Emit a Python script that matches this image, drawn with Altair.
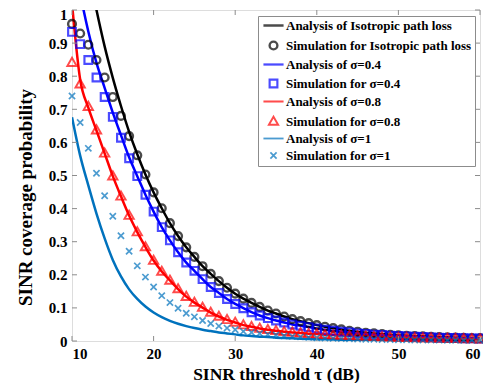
import altair as alt
import pandas as pd

x_db = list(range(10, 61))

iso_ana = [1.41, 1.26, 1.12, 1.00, 0.89, 0.795, 0.71, 0.632, 0.564, 0.503,
           0.449, 0.401, 0.356, 0.317, 0.283, 0.254, 0.226, 0.203, 0.181, 0.161,
           0.143, 0.128, 0.115, 0.103, 0.092, 0.083, 0.074, 0.066, 0.060, 0.054,
           0.048, 0.043, 0.039, 0.035, 0.031, 0.028, 0.025, 0.023, 0.021, 0.019,
           0.017, 0.016, 0.015, 0.014, 0.013, 0.012, 0.011, 0.010, 0.0095, 0.009, 0.0085]
iso_sim = [0.958, 0.929, 0.895, 0.849, 0.796, 0.737, 0.680, 0.619, 0.561, 0.503,
           0.449, 0.401, 0.356, 0.317, 0.283, 0.254, 0.226, 0.203, 0.181, 0.161,
           0.143, 0.128, 0.115, 0.103, 0.092, 0.083, 0.074, 0.066, 0.060, 0.054,
           0.048, 0.043, 0.039, 0.035, 0.031, 0.028, 0.025, 0.023, 0.021, 0.019,
           0.017, 0.016, 0.015, 0.014, 0.013, 0.012, 0.011, 0.010, 0.0095, 0.009, 0.0085]
s04_ana = [1.18, 1.05, 0.935, 0.84, 0.765, 0.69, 0.622, 0.555, 0.498, 0.442,
           0.391, 0.344, 0.304, 0.268, 0.237, 0.212, 0.187, 0.163, 0.145, 0.127,
           0.112, 0.099, 0.087, 0.077, 0.069, 0.062, 0.056, 0.050, 0.046, 0.042,
           0.038, 0.034, 0.031, 0.028, 0.026, 0.023, 0.021, 0.019, 0.018, 0.016,
           0.015, 0.014, 0.013, 0.012, 0.011, 0.010, 0.0095, 0.009, 0.0085, 0.008, 0.0075]
s04_sim = [0.934, 0.897, 0.849, 0.796, 0.737, 0.677, 0.614, 0.552, 0.498, 0.442,
           0.391, 0.344, 0.304, 0.268, 0.237, 0.212, 0.187, 0.163, 0.145, 0.127,
           0.112, 0.099, 0.087, 0.077, 0.069, 0.062, 0.056, 0.050, 0.046, 0.042,
           0.038, 0.034, 0.031, 0.028, 0.026, 0.023, 0.021, 0.019, 0.018, 0.016,
           0.015, 0.014, 0.013, 0.012, 0.011, 0.010, 0.0095, 0.009, 0.0085, 0.008, 0.0075]
s08_ana = [1.02, 0.79, 0.705, 0.636, 0.567, 0.498, 0.437, 0.379, 0.329, 0.284,
           0.243, 0.210, 0.183, 0.157, 0.134, 0.116, 0.101, 0.086, 0.074, 0.064,
           0.056, 0.048, 0.043, 0.038, 0.034, 0.031, 0.028, 0.026, 0.024, 0.022,
           0.021, 0.019, 0.018, 0.017, 0.016, 0.015, 0.014, 0.013, 0.012, 0.011,
           0.010, 0.0095, 0.009, 0.0085, 0.008, 0.0075, 0.007, 0.0065, 0.006, 0.0058, 0.0055]
s08_sim = [0.841, 0.776, 0.708, 0.637, 0.567, 0.498, 0.437, 0.379, 0.329, 0.284,
           0.243, 0.210, 0.183, 0.157, 0.134, 0.116, 0.101, 0.086, 0.074, 0.064,
           0.056, 0.048, 0.043, 0.038, 0.034, 0.031, 0.028, 0.026, 0.024, 0.022,
           0.021, 0.019, 0.018, 0.017, 0.016, 0.015, 0.014, 0.013, 0.012, 0.011,
           0.010, 0.0095, 0.009, 0.0085, 0.008, 0.0075, 0.007, 0.0065, 0.006, 0.0058, 0.0055]
s1_ana = [0.676, 0.56, 0.47, 0.385, 0.31, 0.245, 0.195, 0.156, 0.127, 0.104,
          0.086, 0.072, 0.061, 0.052, 0.045, 0.039, 0.034, 0.030, 0.026, 0.023,
          0.020, 0.017, 0.015, 0.013, 0.012, 0.010, 0.009, 0.008, 0.007, 0.0062,
          0.0055, 0.005, 0.0045, 0.004, 0.0036, 0.0032, 0.003, 0.0027, 0.0025, 0.0023,
          0.0021, 0.0019, 0.0017, 0.0016, 0.0015, 0.0014, 0.0013, 0.0012, 0.0011, 0.00105, 0.001]
s1_sim = [0.74, 0.66, 0.582, 0.507, 0.439, 0.377, 0.318, 0.271, 0.227, 0.193,
          0.163, 0.137, 0.116, 0.099, 0.084, 0.073, 0.062, 0.053, 0.045, 0.039,
          0.034, 0.029, 0.026, 0.023, 0.020, 0.018, 0.016, 0.014, 0.0125, 0.011,
          0.010, 0.009, 0.008, 0.0072, 0.0065, 0.006, 0.0054, 0.005, 0.0045, 0.0042,
          0.0038, 0.0035, 0.0032, 0.003, 0.0028, 0.0026, 0.0024, 0.0022, 0.002, 0.0019, 0.0018]

names = ["Analysis of Isotropic path loss", "Simulation for Isotropic path loss",
         "Analysis of σ=0.4", "Simulation for σ=0.4",
         "Analysis of σ=0.8", "Simulation for σ=0.8",
         "Analysis of σ=1", "Simulation for σ=1"]
series_vals = [iso_ana, iso_sim, s04_ana, s04_sim, s08_ana, s08_sim, s1_ana, s1_sim]
colors = ["#000000", "#000000", "#0000FF", "#0000FF", "#FF0000", "#FF0000", "#0072BD", "#0072BD"]
LINE = "M-2.6,0H2.6"
shapes = [LINE, "circle", LINE, "square", LINE, "M0,-1.25L1.2,0.85L-1.2,0.85Z", LINE,
          "M-0.8,-0.8L0.8,0.8M-0.8,0.8L0.8,-0.8"]
marker_widths = [2.5, 1.7, 2.5, 2.0, 2.5, 1.7, 2.5, 2.6]

x_ticks = [10, 20, 30, 40, 50, 60]
y_ticks = [0, 0.1, 0.2, 0.3, 0.4, 0.5, 0.6, 0.7, 0.8, 0.9, 1]

rows = []
for name, vals in zip(names, series_vals):
    kind = "ana" if name.startswith("Analysis") else "sim"
    for x, v in zip(x_db, vals):
        rows.append({"tau": x, "p": v, "series": name, "kind": kind})
df = pd.DataFrame(rows)

W, H = 408, 331
FONT = "Liberation Serif, Times New Roman, Times, serif"
GRAY = "#8c8c8c"

xs = alt.Scale(domain=[10, 60], nice=False, zero=False)
ys = alt.Scale(domain=[0, 1], nice=False)
color_scale = alt.Scale(domain=names, range=colors)
shape_scale = alt.Scale(domain=names, range=shapes)

x_axis = alt.Axis(values=x_ticks, title="SINR threshold τ (dB)", ticks=False, tickSize=0,
                  domain=False, grid=False, labelPadding=5, titlePadding=4,
                  labelFont=FONT, labelFontSize=15, labelFontWeight="bold",
                  titleFont=FONT, titleFontSize=17.5, titleFontWeight="bold",
                  labelColor="black", titleColor="black")
y_axis = alt.Axis(values=y_ticks, format=".1~f", title="SINR coverage probability", ticks=False,
                  tickSize=0, domain=False, grid=False, labelPadding=5,
                  labelOffset={"condition": {"test": "datum.value == 1", "value": 4}, "value": 0},
                  titleX=-47, titleY=187, titleAngle=270, titleAlign="center",
                  titleBaseline="middle",
                  labelFont=FONT, labelFontSize=15, labelFontWeight="bold",
                  titleFont=FONT, titleFontSize=19, titleFontWeight="bold",
                  labelColor="black", titleColor="black")

legend = alt.Legend(title=None, orient="none", legendX=186, legendY=6,
                    labelFont=FONT, labelFontSize=13, labelFontWeight="bold", labelColor="black",
                    labelLimit=400, symbolSize=60, symbolStrokeWidth=2.2,
                    symbolOffset=6, labelOffset=6, padding=3, rowPadding=3,
                    strokeColor=GRAY, fillColor="white")

lines = alt.Chart(df).transform_filter(alt.datum.kind == "ana").mark_line(
    clip=True, strokeWidth=2.5, interpolate="monotone"
).encode(
    x=alt.X("tau:Q", scale=xs, axis=x_axis),
    y=alt.Y("p:Q", scale=ys, axis=y_axis),
    color=alt.Color("series:N", scale=color_scale, legend=legend),
    detail="series:N",
)

points = alt.Chart(df).transform_filter(alt.datum.kind == "sim").mark_point(
    filled=False, size=60
).encode(
    x=alt.X("tau:Q", scale=xs, axis=x_axis),
    y=alt.Y("p:Q", scale=ys, axis=y_axis),
    color=alt.Color("series:N", scale=color_scale, legend=legend),
    shape=alt.Shape("series:N", scale=shape_scale, legend=legend),
    strokeWidth=alt.StrokeWidth("series:N", scale=alt.Scale(domain=names, range=marker_widths),
                                legend=None),
)

xt = pd.DataFrame({"tau": x_ticks})
yt = pd.DataFrame({"p": y_ticks})
tick_len = 5
bx = alt.Chart(xt).mark_rule(color=GRAY, strokeWidth=1).encode(
    x=alt.X("tau:Q", scale=xs, axis=x_axis), y=alt.value(H), y2=alt.value(H - tick_len))
tx = alt.Chart(xt).mark_rule(color=GRAY, strokeWidth=1).encode(
    x=alt.X("tau:Q", scale=xs, axis=x_axis), y=alt.value(0), y2=alt.value(tick_len))
ly = alt.Chart(yt).mark_rule(color=GRAY, strokeWidth=1).encode(
    y=alt.Y("p:Q", scale=ys, axis=y_axis), x=alt.value(0), x2=alt.value(tick_len))
ry = alt.Chart(yt).mark_rule(color=GRAY, strokeWidth=1).encode(
    y=alt.Y("p:Q", scale=ys, axis=y_axis), x=alt.value(W), x2=alt.value(W - tick_len))

chart = alt.layer(lines, points, bx, tx, ly, ry).properties(
    width=W, height=H,
    autosize=alt.AutoSizeParams(type="none"),
    padding={"left": 64, "top": 2, "right": 3, "bottom": 42},
).configure_view(stroke=GRAY, strokeWidth=1).configure(background="white")

chart.save("out.html", embed_options={"renderer": "svg", "actions": False})
